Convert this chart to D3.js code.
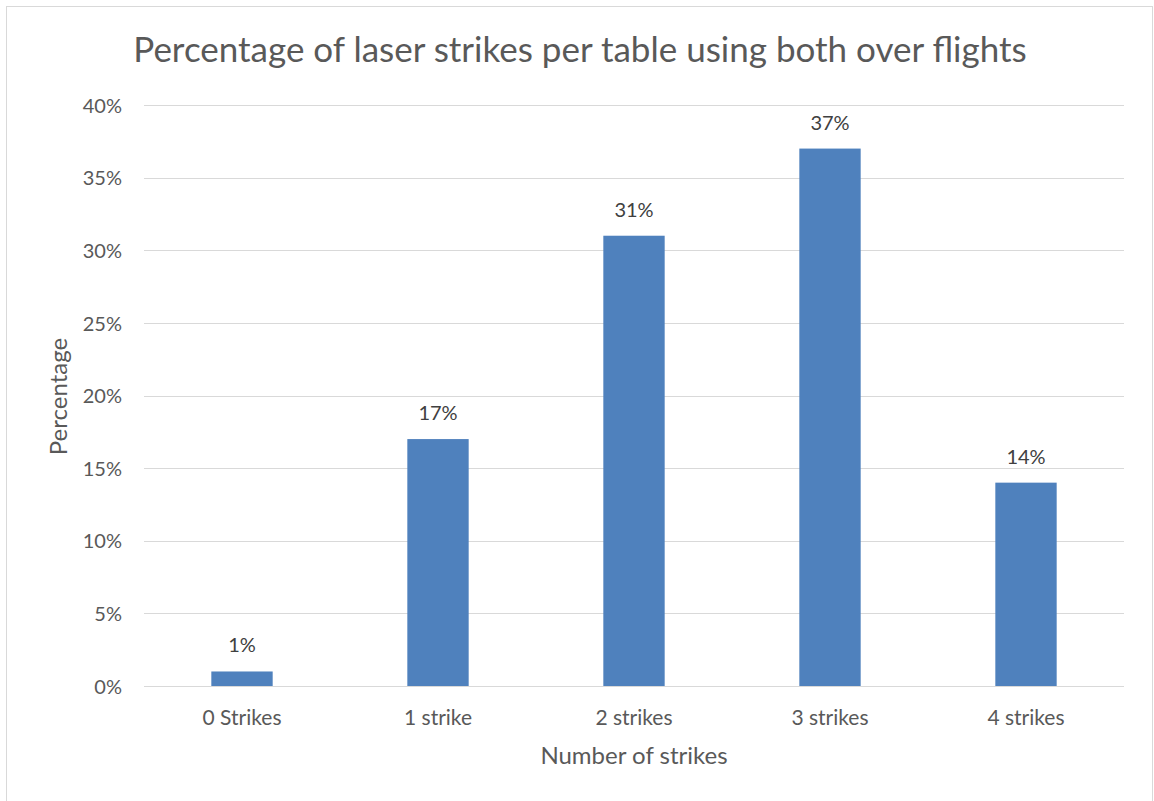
<!DOCTYPE html>
<html>
<head>
<meta charset="utf-8">
<script src="https://cdn.jsdelivr.net/npm/d3@7"></script>
<style>
  html, body { margin: 0; padding: 0; background: #fff; }
  svg text { font-family: Lato, "Open Sans", sans-serif; }
</style>
</head>
<body>
<svg id="chart" width="1154" height="801"></svg>
<script>
// Laser strikes per table, both over flights
const categories = ["0 Strikes", "1 strike", "2 strikes", "3 strikes", "4 strikes"];
const percentages = [1, 17, 31, 37, 14];
const yTicks = [0, 5, 10, 15, 20, 25, 30, 35, 40];

const svg = d3.select("#chart");
const margin = { left: 144, right: 1124, top: 105, bottom: 686 };

// chart frame
svg.append("rect")
  .attr("x", 6.5).attr("y", 6.5)
  .attr("width", 1146).attr("height", 800)
  .attr("fill", "#fff").attr("stroke", "#d9d9d9").attr("stroke-width", 1);

const x = d3.scaleBand()
  .domain(categories)
  .range([margin.left, margin.right])
  .paddingInner(0.687)
  .paddingOuter(0.3435);

const y = d3.scaleLinear()
  .domain([0, 40])
  .range([margin.bottom, margin.top]);

// horizontal gridlines
svg.append("g")
  .selectAll("line")
  .data(yTicks)
  .join("line")
  .attr("x1", margin.left).attr("x2", margin.right)
  .attr("y1", d => Math.round(y(d)) + 0.5)
  .attr("y2", d => Math.round(y(d)) + 0.5)
  .attr("stroke", "#d9d9d9").attr("stroke-width", 1.2);

// y axis tick labels
const yAxis = d3.axisLeft(y).tickValues(yTicks).tickFormat(d => d + "%").tickSize(0).tickPadding(0);
const gy = svg.append("g").attr("transform", `translate(${margin.left - 22},0)`).call(yAxis);
gy.select(".domain").remove();
gy.selectAll("text")
  .attr("fill", "#595959")
  .style("font-size", "20px")
  .attr("dy", "0.36em");

// bars
svg.append("g")
  .selectAll("rect")
  .data(percentages)
  .join("rect")
  .attr("x", (d, i) => x(categories[i]))
  .attr("width", x.bandwidth())
  .attr("y", d => y(d))
  .attr("height", d => y(0) - y(d))
  .attr("fill", "#4f81bd");

// data labels
svg.append("g")
  .selectAll("text")
  .data(percentages)
  .join("text")
  .attr("x", (d, i) => x(categories[i]) + x.bandwidth() / 2)
  .attr("y", d => y(d) - 19)
  .attr("text-anchor", "middle")
  .attr("fill", "#404040")
  .style("font-size", "20px")
  .text(d => d + "%");

// x axis category labels
const xAxis = d3.axisBottom(x).tickSize(0).tickPadding(0);
const gx = svg.append("g").attr("transform", `translate(0,${margin.bottom + 31})`).call(xAxis);
gx.select(".domain").remove();
gx.selectAll("text")
  .attr("fill", "#595959")
  .attr("dy", "0.36em")
  .style("font-size", "21px");

// axis titles
svg.append("text")
  .attr("x", (margin.left + margin.right) / 2)
  .attr("y", 755)
  .attr("dy", "0.36em")
  .attr("text-anchor", "middle")
  .attr("fill", "#595959")
  .style("font-size", "24px")
  .text("Number of strikes");

svg.append("text")
  .attr("transform", `translate(58,${(margin.top + margin.bottom) / 2 + 1}) rotate(-90)`)
  .attr("dy", "0.36em")
  .attr("text-anchor", "middle")
  .attr("fill", "#595959")
  .style("font-size", "24px")
  .text("Percentage");

// chart title
svg.append("text")
  .attr("x", 580)
  .attr("y", 62)
  .attr("text-anchor", "middle")
  .attr("fill", "#595959")
  .style("font-size", "35px")
  .text("Percentage of laser strikes per table using both over flights");
</script>
</body>
</html>
